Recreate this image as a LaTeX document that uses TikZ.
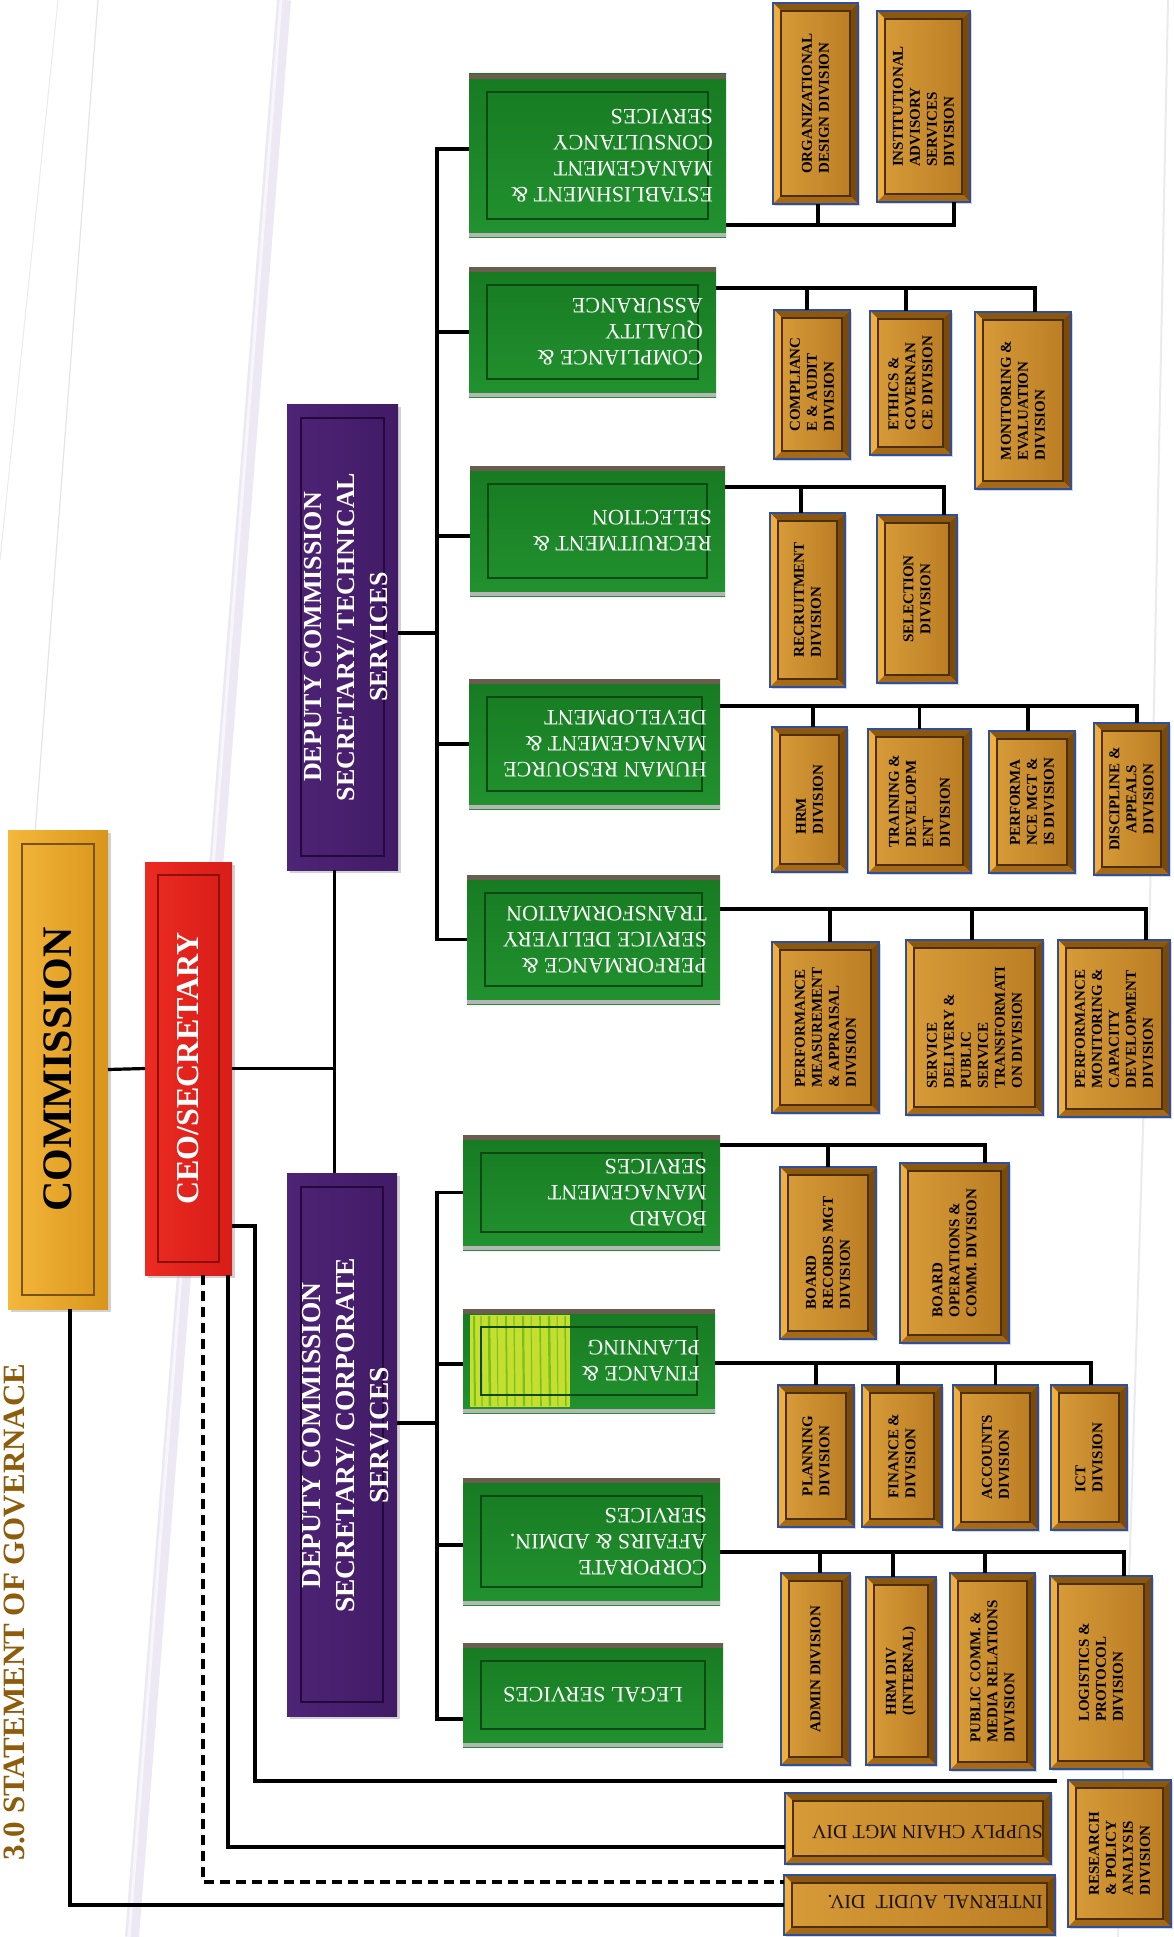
\documentclass[tikz,border=0pt]{standalone}
\usepackage{fontspec}
\setmainfont{Liberation Serif}
\usetikzlibrary{calc,fit,shadows}
\definecolor{bronzeIn}{HTML}{C98B2D}
\definecolor{bronzeInL}{HTML}{D69A38}
\definecolor{bronzeInD}{HTML}{BC7E24}
\definecolor{bevT}{HTML}{8A5810}
\definecolor{bevL}{HTML}{F0AE3C}
\definecolor{bevR}{HTML}{7A4A0C}
\definecolor{bevB}{HTML}{A46A18}
\definecolor{bronzeLine}{HTML}{4E2E06}
\definecolor{bboxedge}{HTML}{2E4F9E}
\definecolor{gfill}{HTML}{22922F}
\definecolor{gfillT}{HTML}{177A22}
\definecolor{ginner}{HTML}{0C4A14}
\definecolor{gtop}{HTML}{6A5D50}
\definecolor{gbot}{HTML}{B5B5B8}
\definecolor{goldL}{HTML}{F4B83C}
\definecolor{goldD}{HTML}{D9951C}
\definecolor{goldLine}{HTML}{7A520E}
\definecolor{redL}{HTML}{EC2B22}
\definecolor{redD}{HTML}{D81C18}
\definecolor{redLine}{HTML}{8C100C}
\definecolor{purL}{HTML}{4E2476}
\definecolor{purD}{HTML}{411B66}
\definecolor{purLine}{HTML}{25093C}
\definecolor{titlecol}{HTML}{8E5D0C}
\definecolor{streak}{HTML}{ECE9F4}
\definecolor{yelgr}{HTML}{C6DE30}

\tikzset{
  conn/.style={draw=black, line width=3.2pt},
  boxbase/.style={inner sep=0pt, outer sep=0pt},
  brownbox/.style={boxbase, fill=bronzeIn,
    drop shadow={shadow xshift=2pt, shadow yshift=-2pt, opacity=0.3}},
  browninner/.style={draw=bronzeLine, line width=1.5pt, left color=bronzeInL, right color=bronzeInD},
  browntext/.style={rotate=90, align=left, inner sep=0pt, text=black, font=\bfseries\fontsize{15}{17}\selectfont},
  greenbox/.style={boxbase, top color=gfillT, bottom color=gfill},
  greentext/.style={rotate=180, align=left, inner sep=0pt, text=white, font=\fontsize{22}{26}\selectfont, anchor=west},
  mainbox/.style={boxbase, drop shadow={shadow xshift=3pt, shadow yshift=-3pt, opacity=0.35}},
  bottomtext/.style={rotate=180, anchor=west, inner sep=0pt, text=black!85!brown, font=\fontsize{20}{20}\selectfont},
}

\newcommand\BBoxOnly[5]{%
  \coordinate (#1-a) at (#2,#3); \coordinate (#1-b) at (#4,#5);
  \node[brownbox, fit=(#1-a)(#1-b)] (#1) {};
  \coordinate (#1-inw) at ([shift={(8pt,-8pt)}]#1.north west);
  \coordinate (#1-ine) at ([shift={(-8pt,-8pt)}]#1.north east);
  \coordinate (#1-isw) at ([shift={(8pt,8pt)}]#1.south west);
  \coordinate (#1-ise) at ([shift={(-8pt,8pt)}]#1.south east);
  \fill[bevT] (#1.north west) -- (#1.north east) -- (#1-ine) -- (#1-inw) -- cycle;
  \fill[bevL] (#1.north west) -- (#1-inw) -- (#1-isw) -- (#1.south west) -- cycle;
  \fill[bevR] (#1.north east) -- (#1.south east) -- (#1-ise) -- (#1-ine) -- cycle;
  \fill[bevB] (#1.south west) -- (#1-isw) -- (#1-ise) -- (#1.south east) -- cycle;
  \draw[browninner] (#1-inw) rectangle (#1-ise);
  \draw[bboxedge, line width=1.2pt] (#1.north west) rectangle (#1.south east);
}
\newcommand\BBox[7][]{\BBoxOnly{#2}{#3}{#4}{#5}{#6}\node[browntext,#1] (#2-t) at (#2.center) {#7};}

\newcommand\GBoxOnly[5]{%
  \coordinate (#1-a) at (#2,#3); \coordinate (#1-b) at (#4,#5);
  \node[greenbox, fit=(#1-a)(#1-b)] (#1) {};
  \draw[gtop, line width=5pt] ([yshift=-2.5pt]#1.north west) -- ([yshift=-2.5pt]#1.north east);
  \draw[gbot, line width=4pt] ([yshift=2pt]#1.south west) -- ([yshift=2pt]#1.south east);
}
\newcommand\GInner[1]{%
  \draw[ginner, line width=1.2pt] ([shift={(18pt,-18pt)}]#1.north west) rectangle ([shift={(-18pt,18pt)}]#1.south east);
}
\newcommand\GBox[6]{\GBoxOnly{#1}{#2}{#3}{#4}{#5}\GInner{#1}%
  \node[greentext] (#1-t) at ([xshift=-13pt]#1.east) {#6};}

\newcommand\MBox[9]{%
  \coordinate (#1-a) at (#2,#3); \coordinate (#1-b) at (#4,#5);
  \node[mainbox, left color=#6, right color=#7, fit=(#1-a)(#1-b)] (#1) {};
  \draw[#8, line width=1.3pt] ([shift={(#9pt,-#9pt)}]#1.north west) rectangle ([shift={(-#9pt,#9pt)}]#1.south east);
}

\begin{document}
\begin{tikzpicture}[x=1pt,y=-1pt]
\useasboundingbox (0,0) rectangle (1173,1937);
\fill[white] (0,0) rectangle (1173,1937);

% faint background streaks
\draw[streak, line width=14pt] (284,0) -- (132,1937);
\draw[white, line width=3pt, opacity=0.6] (281,0) -- (129,1937);
\draw[black!10, line width=1.2pt] (98,0) -- (30,900);
\draw[black!8, line width=1pt] (58,0) -- (0,560);
\draw[black!8, line width=2pt] (1168,0) -- (1150,900) -- (1118,1937);

% title
\node[rotate=90, inner sep=0pt, text=titlecol, font=\bfseries\fontsize{31}{31}\selectfont] (ttl) at (14,1612) {3.0 STATEMENT OF GOVERNACE};

% main boxes
\MBox{comm}{8}{830}{108}{1309}{goldL}{goldD}{goldLine}{14}
\node[rotate=90, inner sep=0pt, font=\bfseries\fontsize{42}{42}\selectfont] (comm-t) at (comm.center) {COMMISSION};
\MBox{ceo}{145}{862}{232}{1275}{redL}{redD}{redLine}{13}
\node[rotate=90, inner sep=0pt, text=white, font=\bfseries\fontsize{32}{32}\selectfont] (ceo-t) at (ceo.center) {CEO/SECRETARY};
\MBox{deptech}{287}{404}{398}{870}{purL}{purD}{purLine}{14}
\node[rotate=90, inner sep=0pt, align=center, text=white, font=\bfseries\fontsize{26}{33}\selectfont] (deptech-t) at ([xshift=4pt]deptech.center) {DEPUTY COMMISSION\\SECRETARY/ TECHNICAL\\SERVICES};
\MBox{depcorp}{287}{1173}{397}{1716}{purL}{purD}{purLine}{14}
\node[rotate=90, inner sep=0pt, align=center, text=white, font=\bfseries\fontsize{27.5}{34}\selectfont] (depcorp-t) at ([xshift=4pt, yshift=9pt]depcorp.center) {DEPUTY COMMISSION\\SECRETARY/ CORPORATE\\SERVICES};

% green boxes - technical
\GBox{est}{469}{74}{726}{237}{ESTABLISHMENT \&\\MANAGEMENT\\CONSULTANCY\\SERVICES}
\GBox{comp}{469}{267}{716}{397}{COMPLIANCE \&\\QUALITY\\ASSURANCE}
\GBox{recr}{470}{466}{725}{596}{RECRUITMENT \&\\SELECTION}
\GBox{hr}{469}{679}{720}{809}{HUMAN RESOURCE\\MANAGEMENT \&\\DEVELOPMENT}
\GBox{psdt}{467}{875}{720}{1004}{PERFORMANCE \&\\SERVICE DELIVERY\\TRANSFORMATION}
% green boxes - corporate
\GBox{board}{463}{1135}{720}{1250}{BOARD\\MANAGEMENT\\SERVICES}
\GBoxOnly{fin}{463}{1309}{715}{1413}
\fill[yelgr] (470,1315) rectangle (570,1407);
\foreach \xx/\ww in {474/2,481/1.2,489/2.5,497/1,506/1.8,514/1.2,523/2.2,531/1,540/1.6,549/2.4,557/1,565/1.5}
  {\draw[green!60!black, line width=\ww pt, opacity=0.4] (\xx,1316) -- (\xx+1,1406);}
\GInner{fin}
\node[greentext] (fin-t) at ([xshift=-15pt]fin.east) {FINANCE \&\\PLANNING};
\GBox{corp}{463}{1478}{720}{1605}{CORPORATE\\AFFAIRS \& ADMIN.\\SERVICES}
\GBoxOnly{legal}{463}{1643}{723}{1747}
\GInner{legal}
\node[greentext, anchor=center] (legal-t) at (legal.center) {LEGAL SERVICES};

% brown boxes - technical
\BBox{org}{773}{3}{858}{204}{ORGANIZATIONAL\\DESIGN DIVISION}
\BBox{inst}{877}{11}{970}{202}{INSTITUTIONAL\\ADVISORY\\SERVICES\\DIVISION}
\BBox{compl}{774}{310}{850}{459}{COMPLIANC\\E \& AUDIT\\DIVISION}
\BBox{ethic}{870}{311}{951}{455}{ETHICS \&\\GOVERNAN\\CE DIVISION}
\BBox{monit}{975}{312}{1071}{489}{MONITORING \&\\EVALUATION\\DIVISION}
\BBox{recdiv}{770}{513}{845}{687}{RECRUITMENT\\DIVISION}
\BBox[align=center]{seldiv}{877}{515}{957}{683}{SELECTION\\DIVISION}
\BBox{hrmdiv}{772}{727}{847}{872}{HRM\\DIVISION}
\BBox{train}{868}{729}{971}{873}{TRAINING \&\\DEVELOPM\\ENT\\DIVISION}
\BBox{perfma}{989}{731}{1075}{873}{PERFORMA\\NCE MGT \&\\IS DIVISION}
\BBox[align=center]{disc}{1094}{723}{1169}{875}{DISCIPLINE \&\\APPEALS\\DIVISION}
\BBox{pmeas}{772}{942}{879}{1113}{PERFORMANCE\\MEASUREMENT\\\& APPRAISAL\\DIVISION}
\BBox{sdel}{906}{940}{1043}{1115}{SERVICE\\DELIVERY \&\\PUBLIC\\SERVICE\\TRANSFORMATI\\ON DIVISION}
\BBox{pmon}{1058}{940}{1170}{1117}{PERFORMANCE\\MONITORING \&\\CAPACITY\\DEVELOPMENT\\DIVISION}
% brown boxes - corporate
\BBox{brec}{780}{1167}{876}{1339}{BOARD\\RECORDS MGT\\DIVISION}
\BBox{bops}{900}{1163}{1009}{1343}{BOARD\\OPERATIONS \&\\COMM. DIVISION}
\BBox{plan}{778}{1385}{854}{1527}{PLANNING\\DIVISION}
\BBox{find}{862}{1385}{942}{1527}{FINANCE \&\\DIVISION}
\BBox{acc}{953}{1385}{1038}{1530}{ACCOUNTS\\DIVISION}
\BBox{ict}{1051}{1385}{1127}{1530}{ICT\\DIVISION}
\BBox{adm}{781}{1573}{850}{1765}{ADMIN DIVISION}
\BBox{hrmd}{866}{1577}{936}{1765}{HRM DIV\\(INTERNAL)}
\BBox{pub}{950}{1573}{1035}{1770}{PUBLIC COMM. \&\\MEDIA RELATIONS\\DIVISION}
\BBox{log}{1050}{1576}{1152}{1769}{LOGISTICS \&\\PROTOCOL\\DIVISION}
% bottom boxes
\BBoxOnly{supply}{785}{1793}{1051}{1864}
\node[bottomtext] (supply-t) at ([xshift=-8pt, yshift=-3.5pt]supply.east) {SUPPLY CHAIN MGT DIV};
\BBoxOnly{audit}{784}{1875}{1055}{1935}
\node[bottomtext] (audit-t) at ([xshift=-12pt, yshift=3pt]audit.east) {INTERNAL AUDIT\ \ DIV.};
\BBox{research}{1068}{1780}{1171}{1927}{RESEARCH\\\& POLICY\\ANALYSIS\\DIVISION}

% ---------- connectors ----------
\draw[conn] (comm.east) -- (ceo.west);
\coordinate (jx) at ([xshift=-8pt]deptech.south);
\draw[conn] (ceo.east) -- (ceo.east -| jx);
\draw[conn] (jx) -- (jx |- depcorp.north);

% technical bus
\coordinate (busT) at (437,0);
\coordinate (est-l) at ([yshift=6.5pt]est.west);
\draw[conn] (est-l) -| (busT |- psdt.west) -- (psdt.west);
\draw[conn] (comp.west) -- (busT |- comp.west);
\coordinate (recr-l) at ([yshift=-5pt]recr.west);
\draw[conn] (recr-l) -- (busT |- recr-l);
\draw[conn] (hr.west) -- (busT |- hr.west);
\coordinate (dt-r) at ([yshift=4pt]deptech.east);
\draw[conn] (dt-r) -- (busT |- dt-r);

% corporate bus
\coordinate (busC) at (437,0);
\coordinate (legal-l) at ([yshift=-24pt]legal.west);
\draw[conn] (board.west) -| (busC |- legal-l) -- (legal-l);
\coordinate (fin-l) at ([yshift=-3pt]fin.west);
\draw[conn] (fin-l) -- (busC |- fin-l);
\coordinate (corp-l) at ([yshift=-3.5pt]corp.west);
\draw[conn] (corp-l) -- (busC |- corp-l);
\coordinate (dc-r) at ([yshift=21.5pt]depcorp.east);
\draw[conn] (dc-r) -- (busC |- dc-r);

% establishment children (above the line)
\coordinate (est-r) at ([yshift=-69.5pt]est.east);
\draw[conn] (est-r) -| ([xshift=30.5pt]inst.south);
\draw[conn] (est-r) -| ([xshift=2.5pt]org.south);
% compliance children
\coordinate (comp-r) at ([yshift=44pt]comp.east);
\draw[conn] (comp-r) -| ([xshift=12pt]monit.north);
\draw[conn] (comp-r) -| ([xshift=-5pt]compl.north);
\draw[conn] (comp-r) -| ([xshift=-4.5pt]ethic.north);
% recruitment children
\coordinate (recr-r) at ([yshift=44pt]recr.east);
\draw[conn] (recr-r) -| ([xshift=27pt]seldiv.north);
\draw[conn] (recr-r) -| ([xshift=-6.5pt]recdiv.north);
% HR children
\coordinate (hr-r) at ([yshift=38pt]hr.east);
\draw[conn] (hr-r) -| ([xshift=5.5pt]disc.north);
\draw[conn] (hr-r) -| ([xshift=3.5pt]hrmdiv.north);
\draw[conn] (hr-r) -| (train.north);
\draw[conn] (hr-r) -| ([xshift=-4pt]perfma.north);
% PSDT children
\coordinate (psdt-r) at ([yshift=30.5pt]psdt.east);
\draw[conn] (psdt-r) -| ([xshift=32pt]pmon.north);
\draw[conn] (psdt-r) -| ([xshift=4.5pt]pmeas.north);
\draw[conn] (psdt-r) -| ([xshift=-2.5pt]sdel.north);
% board children
\coordinate (board-r) at ([yshift=47.5pt]board.east);
\draw[conn] (board-r) -| ([xshift=30.5pt]bops.north);
\draw[conn] (board-r) -| (brec.north);
% finance children
\coordinate (fin-r) at ([yshift=-2pt]fin.east);
\draw[conn] (fin-r) -| ([xshift=2pt]ict.north);
\draw[conn] (fin-r) -| (plan.north);
\draw[conn] (fin-r) -| ([xshift=-4pt]find.north);
\draw[conn] (fin-r) -| (acc.north);
% corporate affairs children
\coordinate (corp-r) at ([yshift=-10.5pt]corp.east);
\draw[conn] (corp-r) -| ([xshift=23pt]log.north);
\draw[conn] (corp-r) -| ([xshift=4.5pt]adm.north);
\draw[conn] (corp-r) -| ([xshift=-8pt]hrmd.north);
\draw[conn] (corp-r) -| ([xshift=-7.5pt]pub.north);

% lines to bottom units
\coordinate (commdrop) at ([xshift=12pt]comm.south);
\draw[conn] (commdrop) |- (audit.west);
\coordinate (ceodash) at ([xshift=14.5pt]ceo.south);
\coordinate (auditdash) at ([yshift=23pt]audit.west);
\draw[conn, dash pattern=on 10pt off 6pt] (ceodash) |- (auditdash);
\coordinate (ceosup) at ([xshift=39.5pt]ceo.south);
\coordinate (supl) at ([yshift=-18.5pt]supply.west);
\draw[conn] (ceosup) |- (supl);
\coordinate (ceores) at ([yshift=-157.5pt]ceo.east);
\coordinate (resend) at ([xshift=-11pt, yshift=-1pt]research.north west);
\draw[conn] (ceores) -- ++(23,0) |- (resend);
\end{tikzpicture}
\end{document}
